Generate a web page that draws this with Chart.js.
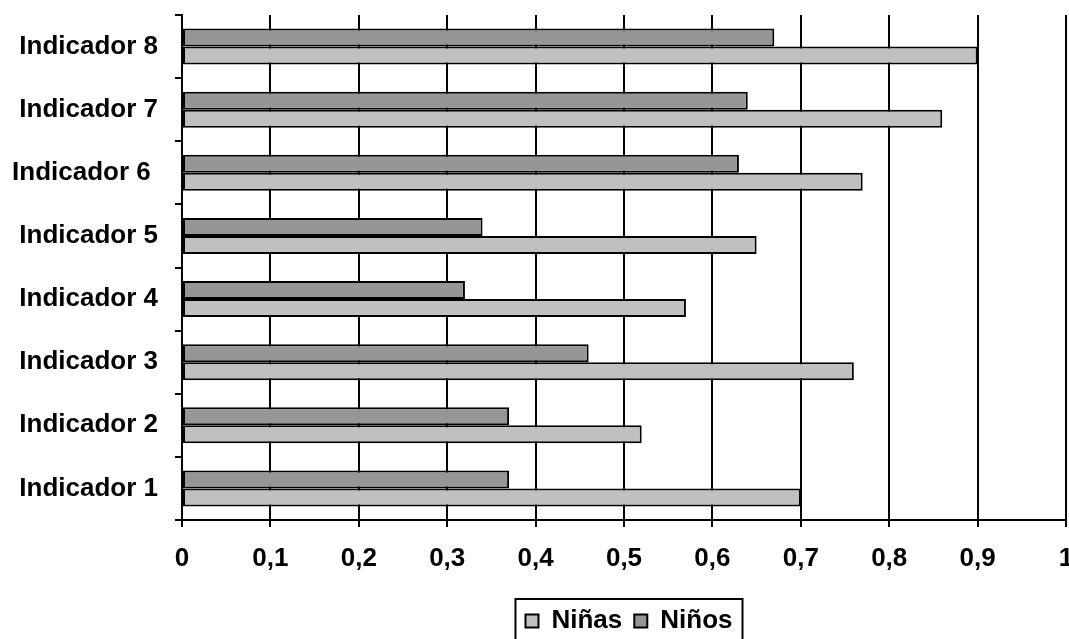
<!DOCTYPE html>
<html>
<head>
<meta charset="utf-8">
<script src="https://cdn.jsdelivr.net/npm/chart.js@4.4.1/dist/chart.umd.min.js"></script>
<style>
  body { margin: 0; background: #fff; }
</style>
</head>
<body>
<canvas id="myChart" width="1069" height="639"></canvas>
<script>
// Indicators, bottom (1) to top (8)
const categories = [
  'Indicador 1', 'Indicador 2', 'Indicador 3', 'Indicador 4',
  'Indicador 5', 'Indicador 6 ', 'Indicador 7', 'Indicador 8'
];
const ninas = [0.70, 0.52, 0.76, 0.57, 0.65, 0.77, 0.86, 0.90];
const ninos = [0.37, 0.37, 0.46, 0.32, 0.34, 0.63, 0.64, 0.67];

// x axis: 0 .. 1 every 0,1
const xMin = 0;
const xMax = 1;
const xStep = 0.1;

const FONT = { family: '"Liberation Sans", Arial, sans-serif', size: 26, weight: 'bold' };

// Chart.js puts the first label at the top, so flip the lists
const rev = (arr) => arr.slice().reverse();

// Move the legend under the plot and frame it with a box
const legendBox = {
  id: 'legendBox',
  afterLayout(chart) {
    const lg = chart.legend;
    const area = chart.chartArea;
    const center = (area.left + area.right) / 2 + 5;
    lg.left = center - 300;
    lg.right = center + 300;
    lg.width = 600;
    const h = lg.height;
    lg.top = 596;
    lg.bottom = lg.top + h;
  },
  afterDraw(chart) {
    const lg = chart.legend;
    const pad = lg.options.labels.padding;
    const lw = lg.lineWidths[0];
    const start = (lg.left + pad + lg.right - lw) / 2;
    const ctx = chart.ctx;
    ctx.save();
    ctx.strokeStyle = '#000';
    ctx.lineWidth = 2;
    ctx.strokeRect(start - 10, lg.top + pad - 9, lw - pad + 20, 60);
    ctx.restore();
  }
};

const ctx = document.getElementById('myChart').getContext('2d');
window.myChart = new Chart(ctx, {
  type: 'bar',
  data: {
    labels: rev(categories),
    datasets: [
      {
        label: 'Niños',
        data: rev(ninos),
        backgroundColor: '#969696',
        borderColor: '#000',
        borderWidth: 2,
        borderSkipped: false,
      },
      {
        label: 'Niñas',
        data: rev(ninas),
        backgroundColor: '#c0c0c0',
        borderColor: '#000',
        borderWidth: 2,
        borderSkipped: false,
      },
    ],
  },
  options: {
    indexAxis: 'y',
    responsive: false,
    animation: false,
    categoryPercentage: 0.57,
    barPercentage: 1.0,
    layout: { padding: { top: 15, right: 3, left: 0, bottom: 0 } },
    scales: {
      x: {
        min: xMin,
        max: xMax,
        ticks: {
          stepSize: xStep,
          color: '#000',
          font: FONT,
          padding: 16,
          maxRotation: 0,
          callback: (v) => String(Number(v.toFixed(1))).replace('.', ','),
        },
        grid: { color: '#000', lineWidth: 2, tickLength: 7, tickColor: '#000' },
        border: { color: '#000', width: 2 },
        afterFit: (scale) => {
          scale.height = 71;
          scale.paddingRight = 0;
        },
      },
      y: {
        ticks: { color: '#000', font: FONT, padding: 17 },
        grid: {
          offset: true,
          drawOnChartArea: false,
          tickLength: 7,
          tickColor: '#000',
          lineWidth: 2,
        },
        border: { color: '#000', width: 2 },
        afterFit: (scale) => {
          scale.width = 182;
          scale.paddingTop = 0;
          scale.paddingBottom = 0;
        },
      },
    },
    plugins: {
      tooltip: { enabled: false },
      legend: {
        position: 'bottom',
        reverse: true,
        labels: {
          color: '#000',
          font: FONT,
          boxWidth: 13,
          boxHeight: 13,
          padding: 12,
        },
      },
    },
  },
  plugins: [legendBox],
});
</script>
</body>
</html>
